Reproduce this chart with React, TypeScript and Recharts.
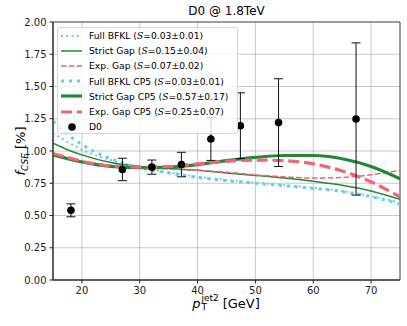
import React from 'react';
import {
  ComposedChart,
  Line,
  Scatter,
  ErrorBar,
  XAxis,
  YAxis,
  CartesianGrid,
  ReferenceArea,
} from 'recharts';

// curve samples along pT
const ptValues = [15, 17.5, 20, 25, 30, 35, 40, 45, 50, 55, 60, 65, 70, 75];
const fullBfkl = [1.14, 1.07, 1.01, 0.93, 0.875, 0.835, 0.8, 0.775, 0.755, 0.735, 0.715, 0.69, 0.65, 0.6];
const strictGap = [1.06, 1.01, 0.97, 0.91, 0.88, 0.865, 0.85, 0.83, 0.81, 0.79, 0.765, 0.735, 0.69, 0.625];
const expGap = [0.98, 0.95, 0.92, 0.89, 0.875, 0.86, 0.85, 0.835, 0.815, 0.8, 0.79, 0.795, 0.815, 0.85];
const fullBfklCp5 = [1.23, 1.13, 1.05, 0.94, 0.87, 0.83, 0.795, 0.77, 0.75, 0.73, 0.71, 0.685, 0.645, 0.59];
const strictGapCp5 = [0.97, 0.94, 0.915, 0.88, 0.87, 0.875, 0.895, 0.925, 0.95, 0.965, 0.965, 0.94, 0.88, 0.785];
const expGapCp5 = [0.98, 0.95, 0.92, 0.885, 0.875, 0.88, 0.9, 0.92, 0.93, 0.925, 0.9, 0.845, 0.76, 0.645];

// D0 measurement
const d0Pt = [18.1, 27, 32.1, 37.2, 42.3, 47.4, 54, 67.4];
const d0Val = [0.54, 0.857, 0.875, 0.895, 1.093, 1.196, 1.22, 1.248];
const d0Err = [0.05, 0.087, 0.055, 0.095, 0.166, 0.255, 0.34, 0.59];

const xTicks = [20, 30, 40, 50, 60, 70];
const yTicks = [0, 0.25, 0.5, 0.75, 1, 1.25, 1.5, 1.75, 2];

const CYAN = '#66CCEE';
const GREEN = '#228833';
const RED = '#EE6677';

const lineData = ptValues.map((x, i) => ({
  x,
  fullBfkl: fullBfkl[i],
  strictGap: strictGap[i],
  expGap: expGap[i],
  fullBfklCp5: fullBfklCp5[i],
  strictGapCp5: strictGapCp5[i],
  expGapCp5: expGapCp5[i],
}));

const d0Data = d0Pt.map((x, i) => ({ x, y: d0Val[i], err: d0Err[i] }));

const series = [
  { key: 'fullBfkl', name: 'Full BFKL', s: '0.03±0.01', color: CYAN, w: 2, dash: '2 3.3' },
  { key: 'strictGap', name: 'Strict Gap', s: '0.15±0.04', color: GREEN, w: 1.5, dash: undefined },
  { key: 'expGap', name: 'Exp. Gap', s: '0.07±0.02', color: RED, w: 1.5, dash: '5.5 2.4' },
  { key: 'fullBfklCp5', name: 'Full BFKL CP5', s: '0.03±0.01', color: CYAN, w: 3, dash: '3 5' },
  { key: 'strictGapCp5', name: 'Strict Gap CP5', s: '0.57±0.17', color: GREEN, w: 3.2, dash: undefined },
  { key: 'expGapCp5', name: 'Exp. Gap CP5', s: '0.25±0.07', color: RED, w: 3.2, dash: '11 4.8' },
];

const font = '"DejaVu Sans", sans-serif';

const Dot = (props: any) => <circle cx={props.cx} cy={props.cy} r={3.8} fill="#000" />;

export default function App() {
  return (
    <div style={{ position: 'absolute', left: 0, top: 0, width: 407, height: 326, fontFamily: font, background: '#fff' }}>
      <ComposedChart
        width={407}
        height={326}
        data={lineData}
        margin={{ top: 22, right: 7, bottom: 16, left: 8 }}
      >
        <CartesianGrid stroke="#b0b0b0" strokeOpacity={0.7} />
        <XAxis
          dataKey="x"
          type="number"
          domain={[15, 75]}
          ticks={xTicks}
          allowDataOverflow
          height={30}
          tickSize={3.5}
          tickMargin={3}
          tick={{ fontSize: 10, fill: '#222', fontFamily: font }}
          stroke="#222"
        />
        <YAxis
          dataKey="y"
          type="number"
          domain={[0, 2]}
          ticks={yTicks}
          allowDataOverflow
          width={45}
          tickSize={3.5}
          tickMargin={3}
          tickFormatter={(v: number) => v.toFixed(2)}
          tick={{ fontSize: 10, fill: '#222', fontFamily: font }}
          stroke="#222"
        />
        <ReferenceArea x1={15} x2={75} y1={0} y2={2} fill="none" stroke="#555" strokeWidth={1} ifOverflow="visible" />
        {series.map((s) => (
          <Line
            key={s.key}
            dataKey={s.key}
            type="monotone"
            stroke={s.color}
            strokeWidth={s.w}
            strokeDasharray={s.dash}
            dot={false}
            activeDot={false}
            isAnimationActive={false}
          />
        ))}
        <Scatter data={d0Data} dataKey="y" shape={Dot} isAnimationActive={false}>
          <ErrorBar dataKey="err" direction="y" width={4.5} stroke="#111" strokeWidth={1} />
        </Scatter>
      </ComposedChart>

      {/* title */}
      <div style={{ position: 'absolute', left: 53, width: 347, top: 4, textAlign: 'center', fontSize: 12 }}>
        D0 @ 1.8TeV
      </div>

      {/* y label */}
      <div
        style={{
          position: 'absolute',
          left: 20,
          top: 151,
          transform: 'translate(-50%, -50%) rotate(-90deg)',
          whiteSpace: 'nowrap',
          fontSize: 13,
          display: 'flex',
          alignItems: 'baseline',
        }}
      >
        <i>f</i>
        <span style={{ fontSize: 9, fontStyle: 'italic', position: 'relative', top: 3 }}>CSE</span>
        <span style={{ marginLeft: 4 }}>[%]</span>
      </div>

      {/* x label */}
      <div
        style={{
          position: 'absolute',
          left: 226,
          top: 303,
          transform: 'translate(-50%, -50%)',
          whiteSpace: 'nowrap',
          fontSize: 13,
          display: 'flex',
          alignItems: 'center',
        }}
      >
        <i>p</i>
        <span style={{ display: 'inline-flex', flexDirection: 'column', fontSize: 9, lineHeight: '9px', marginLeft: 1 }}>
          <span>jet2</span>
          <span>T</span>
        </span>
        <span style={{ marginLeft: 4 }}>[GeV]</span>
      </div>

      {/* legend */}
      <div
        style={{
          position: 'absolute',
          left: 57,
          top: 27,
          width: 181,
          height: 107,
          boxSizing: 'border-box',
          background: 'rgba(255,255,255,0.8)',
          border: '1px solid #d6d6d6',
          borderRadius: 3,
          fontSize: 9.2,
          overflow: 'visible',
        }}
      >
        {series.map((s) => (
          <div key={s.key} style={{ height: 15.2, display: 'flex', alignItems: 'center', whiteSpace: 'nowrap' }}>
            <svg width={28} height={10} style={{ marginLeft: 3, flexShrink: 0 }}>
              <line x1={0} x2={21} y1={5} y2={5} stroke={s.color} strokeWidth={s.w} strokeDasharray={s.dash} />
            </svg>
            <span>
              {s.name} (<i style={{ fontFamily: '"DejaVu Serif", serif' }}>S</i>={s.s})
            </span>
          </div>
        ))}
        <div style={{ height: 15.2, display: 'flex', alignItems: 'center' }}>
          <svg width={28} height={10} style={{ marginLeft: 3, flexShrink: 0 }}>
            <circle cx={11} cy={5} r={3.8} fill="#000" />
          </svg>
          <span>D0</span>
        </div>
      </div>
    </div>
  );
}
